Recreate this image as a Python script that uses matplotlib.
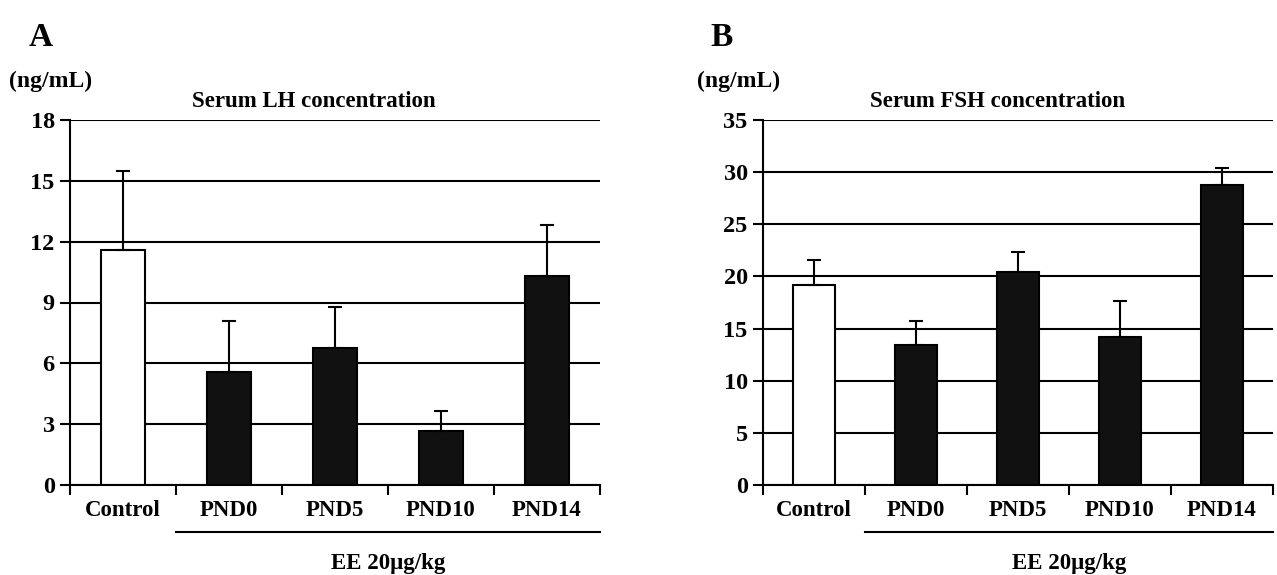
import matplotlib
matplotlib.use('Agg')
import matplotlib.pyplot as plt
import matplotlib.transforms as mtrans
import numpy as np

plt.rcParams['font.family'] = ['Liberation Serif', 'DejaVu Serif']
plt.rcParams['font.weight'] = 'bold'

groups = ['Control', 'PND0', 'PND5', 'PND10', 'PND14']
lh_mean = [11.6, 5.55, 6.75, 2.68, 10.3]
lh_err = [3.9, 2.55, 2.05, 0.97, 2.5]
fsh_mean = [19.2, 13.4, 20.4, 14.2, 28.8]
fsh_err = [2.4, 2.3, 1.9, 3.4, 1.6]
bar_colors = ['white', '#111111', '#111111', '#111111', '#111111']

fig = plt.figure(figsize=(12.77, 5.75), dpi=100)
ax1 = fig.add_axes([70/1277, 90/575, 530/1277, 365/575])
ax2 = fig.add_axes([763/1277, 90/575, 510/1277, 365/575])


def draw_panel(ax, mean, err, ymax, step, title):
    x = np.arange(len(groups))
    ax.set_axisbelow(True)
    ax.yaxis.grid(True, color='black', linewidth=1.5)
    ax.bar(x, mean, width=0.42, color=bar_colors, edgecolor='black', linewidth=1.5, zorder=2)
    ax.errorbar(x, mean, yerr=[np.zeros(len(err)), err], fmt='none', ecolor='black',
                elinewidth=1.5, capsize=5, capthick=1.5, zorder=3)
    ax.set_xlim(-0.5, len(groups) - 0.5)
    ax.set_ylim(0, ymax)
    ax.set_yticks(np.arange(0, ymax + 0.1, step))
    ax.set_xticks(np.arange(-0.5, len(groups), 1.0))
    ax.set_xticklabels([])
    ax.set_xticks(x, minor=True)
    ax.set_xticklabels(groups, minor=True)
    ax.tick_params(axis='x', which='minor', length=0, pad=11, labelsize=16.5)
    ax.tick_params(axis='x', which='major', length=7, width=1.5, direction='out')
    ax.tick_params(axis='y', length=7, width=1.5, direction='out', pad=4, labelsize=17.5)
    for s in ['top', 'right']:
        ax.spines[s].set_visible(False)
    for s in ['left', 'bottom']:
        ax.spines[s].set_linewidth(1.5)
    for lab in ax.get_xticklabels(minor=True) + ax.get_yticklabels():
        lab.set_fontweight('bold')
    tr = mtrans.blended_transform_factory(ax.transData, ax.transAxes)
    ax.plot([0.5, len(groups) - 0.5], [-0.13, -0.13], color='black', linewidth=1.5,
            transform=tr, clip_on=False)
    ax.text(2.5, -0.215, 'EE 20μg/kg', transform=tr, ha='center', va='center',
            fontsize=16.5, fontweight='bold')
    ax.text(0.46, 1.05, title, transform=ax.transAxes, ha='center', va='center',
            fontsize=16.5, fontweight='bold')


draw_panel(ax1, lh_mean, lh_err, 18, 3, 'Serum LH concentration')
draw_panel(ax2, fsh_mean, fsh_err, 35, 5, 'Serum FSH concentration')

fig.text(29/1277, 1 - 37/575, 'A', fontsize=24, fontweight='bold', va='center')
fig.text(710/1277, 1 - 37/575, 'B', fontsize=24, fontweight='bold', va='center')
fig.text(9/1277, 1 - 81/575, '(ng/mL)', fontsize=17, fontweight='bold', va='center')
fig.text(697/1277, 1 - 81/575, '(ng/mL)', fontsize=17, fontweight='bold', va='center')

fig.savefig('out.png', dpi=100, facecolor='white')
